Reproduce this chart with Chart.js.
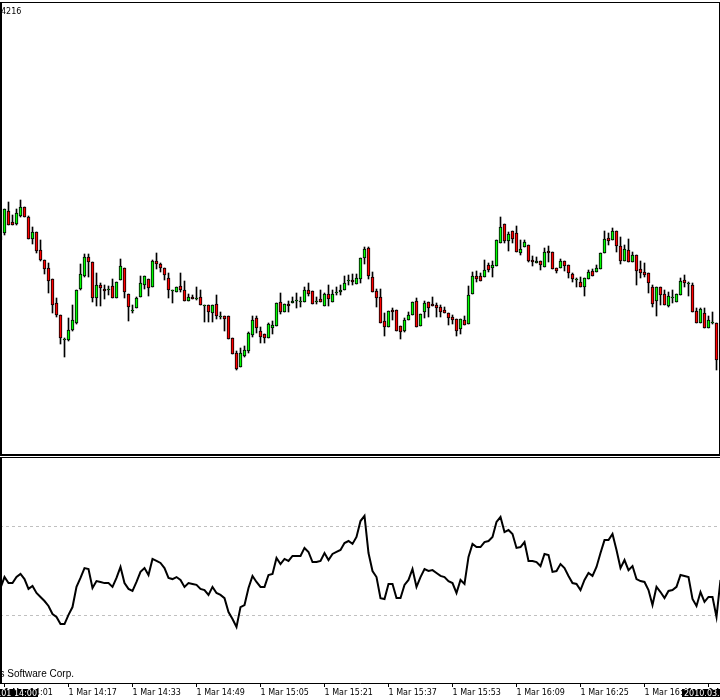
<!DOCTYPE html>
<html>
<head>
<meta charset="utf-8">
<script src="https://cdn.jsdelivr.net/npm/chart.js@4.4.0/dist/chart.umd.min.js"></script>
<style>
  html, body { margin: 0; padding: 0; background: #fff; width: 720px; height: 700px; overflow: hidden; }
  #wrap { position: relative; width: 720px; height: 700px; }
  canvas { position: absolute; left: 0; }
  #price { top: 0; }
  #osc { top: 459px; }
  .ln { position: absolute; background: #000; z-index: 2; }
  .txt { position: absolute; z-index: 2; color: #000; white-space: nowrap;
         font-family: "DejaVu Sans"; font-size: 8px; line-height: 10px; }
</style>
</head>
<body>
<div id="wrap">
  <canvas id="price" width="720" height="455"></canvas>
  <canvas id="osc" width="720" height="240"></canvas>

  <!-- panel frames -->
  <div class="ln" style="left:0;top:2px;width:720px;height:1px"></div>
  <div class="ln" style="left:0;top:2px;width:2px;height:453px"></div>
  <div class="ln" style="left:719px;top:2px;width:1px;height:453px"></div>
  <div class="ln" style="left:0;top:454px;width:720px;height:2px"></div>
  <div class="ln" style="left:0;top:457px;width:720px;height:1px"></div>
  <div class="ln" style="left:0;top:457px;width:2px;height:226px"></div>

  <div class="txt" style="left:1px;top:7px">4216</div>
  <div class="txt" style="right:646px;top:668px;font-family:'Liberation Sans';font-size:10px;line-height:12px">© 2001-2009 MetaQuotes Software Corp.</div>
</div>

<script>
// M1 bars, 1 Mar 2010 14:00 .. 16:59
const open = [
  1.3560, 1.3567, 1.3589, 1.3578, 1.3576, 1.3584, 1.3593, 1.3583, 1.3561, 1.3568,
  1.3550, 1.3540, 1.3532, 1.3521, 1.3497, 1.3485, 1.3460, 1.3460, 1.3470, 1.3477,
  1.3511, 1.3524, 1.3543, 1.3538, 1.3502, 1.3515, 1.3511, 1.3510, 1.3514, 1.3502,
  1.3520, 1.3532, 1.3506, 1.3489, 1.3492, 1.3503, 1.3515, 1.3521, 1.3513, 1.3539,
  1.3536, 1.3532, 1.3522, 1.3509, 1.3508, 1.3514, 1.3510, 1.3499, 1.3503, 1.3501,
  1.3503, 1.3494, 1.3495, 1.3487, 1.3496, 1.3483, 1.3484, 1.3484, 1.3462, 1.3447,
  1.3433, 1.3444, 1.3449, 1.3465, 1.3482, 1.3469, 1.3466, 1.3462, 1.3472, 1.3474,
  1.3498, 1.3488, 1.3496, 1.3497, 1.3499, 1.3498, 1.3498, 1.3510, 1.3509, 1.3498,
  1.3501, 1.3494, 1.3506, 1.3498, 1.3507, 1.3508, 1.3510, 1.3519, 1.3520, 1.3516,
  1.3521, 1.3542, 1.3552, 1.3523, 1.3509, 1.3503, 1.3479, 1.3473, 1.3490, 1.3490,
  1.3474, 1.3469, 1.3480, 1.3485, 1.3499, 1.3474, 1.3488, 1.3498, 1.3496, 1.3495,
  1.3493, 1.3490, 1.3487, 1.3483, 1.3481, 1.3471, 1.3480, 1.3476, 1.3506, 1.3524,
  1.3524, 1.3523, 1.3535, 1.3532, 1.3534, 1.3557, 1.3576, 1.3559, 1.3569, 1.3567,
  1.3547, 1.3553, 1.3555, 1.3540, 1.3537, 1.3539, 1.3533, 1.3549, 1.3548, 1.3532,
  1.3532, 1.3539, 1.3535, 1.3526, 1.3520, 1.3518, 1.3513, 1.3521, 1.3529, 1.3528,
  1.3531, 1.3547, 1.3562, 1.3560, 1.3569, 1.3554, 1.3539, 1.3550, 1.3538, 1.3545,
  1.3531, 1.3528, 1.3527, 1.3513, 1.3499, 1.3513, 1.3506, 1.3494, 1.3502, 1.3498,
  1.3505, 1.3520, 1.3516, 1.3515, 1.3489, 1.3477, 1.3487, 1.3472, 1.3477, 1.3477
];
const high = [
  1.3567, 1.3591, 1.3598, 1.3585, 1.3591, 1.3600, 1.3593, 1.3584, 1.3573, 1.3568,
  1.3560, 1.3540, 1.3537, 1.3521, 1.3502, 1.3485, 1.3462, 1.3482, 1.3495, 1.3510,
  1.3536, 1.3546, 1.3546, 1.3538, 1.3527, 1.3517, 1.3515, 1.3514, 1.3521, 1.3518,
  1.3541, 1.3532, 1.3506, 1.3495, 1.3503, 1.3524, 1.3524, 1.3521, 1.3540, 1.3547,
  1.3537, 1.3532, 1.3527, 1.3510, 1.3513, 1.3527, 1.3519, 1.3506, 1.3505, 1.3513,
  1.3510, 1.3495, 1.3495, 1.3495, 1.3505, 1.3488, 1.3484, 1.3484, 1.3462, 1.3449,
  1.3452, 1.3454, 1.3468, 1.3484, 1.3484, 1.3473, 1.3466, 1.3477, 1.3479, 1.3497,
  1.3507, 1.3496, 1.3499, 1.3503, 1.3507, 1.3503, 1.3513, 1.3517, 1.3509, 1.3503,
  1.3510, 1.3507, 1.3515, 1.3510, 1.3513, 1.3515, 1.3524, 1.3525, 1.3526, 1.3526,
  1.3542, 1.3553, 1.3553, 1.3528, 1.3511, 1.3511, 1.3487, 1.3489, 1.3492, 1.3490,
  1.3474, 1.3482, 1.3488, 1.3498, 1.3502, 1.3486, 1.3499, 1.3498, 1.3503, 1.3497,
  1.3495, 1.3493, 1.3487, 1.3485, 1.3481, 1.3481, 1.3484, 1.3514, 1.3528, 1.3529,
  1.3527, 1.3540, 1.3537, 1.3539, 1.3560, 1.3583, 1.3576, 1.3568, 1.3569, 1.3574,
  1.3560, 1.3560, 1.3555, 1.3544, 1.3543, 1.3539, 1.3552, 1.3554, 1.3548, 1.3532,
  1.3541, 1.3539, 1.3535, 1.3527, 1.3522, 1.3523, 1.3522, 1.3530, 1.3531, 1.3535,
  1.3547, 1.3569, 1.3567, 1.3572, 1.3569, 1.3563, 1.3555, 1.3561, 1.3548, 1.3545,
  1.3539, 1.3537, 1.3527, 1.3515, 1.3513, 1.3513, 1.3510, 1.3508, 1.3510, 1.3506,
  1.3522, 1.3525, 1.3518, 1.3517, 1.3492, 1.3492, 1.3492, 1.3484, 1.3488, 1.3477
];
const low = [
  1.3558, 1.3565, 1.3575, 1.3575, 1.3575, 1.3583, 1.3583, 1.3561, 1.3556, 1.3547,
  1.3539, 1.3526, 1.3507, 1.3487, 1.3483, 1.3456, 1.3443, 1.3459, 1.3469, 1.3476,
  1.3510, 1.3523, 1.3523, 1.3498, 1.3494, 1.3494, 1.3501, 1.3505, 1.3502, 1.3502,
  1.3520, 1.3502, 1.3479, 1.3487, 1.3492, 1.3503, 1.3511, 1.3504, 1.3513, 1.3531,
  1.3528, 1.3520, 1.3502, 1.3497, 1.3508, 1.3508, 1.3499, 1.3499, 1.3501, 1.3500,
  1.3495, 1.3478, 1.3478, 1.3478, 1.3481, 1.3481, 1.3469, 1.3461, 1.3446, 1.3430,
  1.3433, 1.3443, 1.3447, 1.3463, 1.3467, 1.3457, 1.3457, 1.3462, 1.3466, 1.3474,
  1.3486, 1.3488, 1.3488, 1.3497, 1.3492, 1.3493, 1.3498, 1.3504, 1.3496, 1.3496,
  1.3498, 1.3494, 1.3494, 1.3498, 1.3505, 1.3505, 1.3510, 1.3515, 1.3515, 1.3516,
  1.3517, 1.3536, 1.3521, 1.3508, 1.3493, 1.3477, 1.3464, 1.3473, 1.3480, 1.3469,
  1.3461, 1.3468, 1.3480, 1.3485, 1.3473, 1.3474, 1.3482, 1.3483, 1.3494, 1.3483,
  1.3483, 1.3487, 1.3475, 1.3476, 1.3464, 1.3466, 1.3475, 1.3476, 1.3506, 1.3518,
  1.3519, 1.3523, 1.3528, 1.3523, 1.3534, 1.3557, 1.3557, 1.3549, 1.3557, 1.3548,
  1.3545, 1.3553, 1.3538, 1.3534, 1.3537, 1.3530, 1.3533, 1.3538, 1.3531, 1.3527,
  1.3532, 1.3529, 1.3522, 1.3518, 1.3513, 1.3513, 1.3504, 1.3521, 1.3524, 1.3528,
  1.3531, 1.3547, 1.3555, 1.3560, 1.3548, 1.3536, 1.3539, 1.3538, 1.3538, 1.3515,
  1.3522, 1.3523, 1.3507, 1.3493, 1.3484, 1.3495, 1.3495, 1.3493, 1.3497, 1.3498,
  1.3505, 1.3513, 1.3504, 1.3488, 1.3477, 1.3477, 1.3472, 1.3472, 1.3476, 1.3430
];
const close = [
  1.3564, 1.3591, 1.3575, 1.3575, 1.3587, 1.3593, 1.3583, 1.3561, 1.3568, 1.3549,
  1.3540, 1.3531, 1.3519, 1.3495, 1.3485, 1.3462, 1.3460, 1.3470, 1.3480, 1.3510,
  1.3526, 1.3543, 1.3538, 1.3502, 1.3515, 1.3512, 1.3509, 1.3510, 1.3502, 1.3518,
  1.3534, 1.3508, 1.3493, 1.3489, 1.3502, 1.3517, 1.3524, 1.3512, 1.3539, 1.3536,
  1.3532, 1.3525, 1.3510, 1.3509, 1.3513, 1.3510, 1.3499, 1.3503, 1.3501, 1.3501,
  1.3495, 1.3494, 1.3488, 1.3495, 1.3484, 1.3483, 1.3481, 1.3461, 1.3446, 1.3431,
  1.3447, 1.3450, 1.3467, 1.3480, 1.3472, 1.3463, 1.3462, 1.3476, 1.3475, 1.3497,
  1.3488, 1.3496, 1.3494, 1.3499, 1.3500, 1.3499, 1.3510, 1.3506, 1.3496, 1.3498,
  1.3498, 1.3506, 1.3501, 1.3506, 1.3507, 1.3510, 1.3517, 1.3520, 1.3518, 1.3522,
  1.3542, 1.3551, 1.3524, 1.3508, 1.3502, 1.3477, 1.3473, 1.3489, 1.3488, 1.3469,
  1.3468, 1.3480, 1.3485, 1.3498, 1.3473, 1.3486, 1.3497, 1.3492, 1.3494, 1.3492,
  1.3488, 1.3487, 1.3482, 1.3480, 1.3469, 1.3481, 1.3475, 1.3505, 1.3524, 1.3521,
  1.3519, 1.3530, 1.3530, 1.3535, 1.3560, 1.3573, 1.3559, 1.3566, 1.3561, 1.3548,
  1.3551, 1.3558, 1.3539, 1.3538, 1.3539, 1.3535, 1.3548, 1.3547, 1.3531, 1.3529,
  1.3539, 1.3534, 1.3527, 1.3521, 1.3520, 1.3513, 1.3522, 1.3528, 1.3524, 1.3532,
  1.3547, 1.3561, 1.3559, 1.3569, 1.3554, 1.3539, 1.3551, 1.3538, 1.3545, 1.3529,
  1.3527, 1.3525, 1.3517, 1.3496, 1.3513, 1.3505, 1.3495, 1.3504, 1.3502, 1.3506,
  1.3519, 1.3517, 1.3516, 1.3488, 1.3477, 1.3491, 1.3472, 1.3480, 1.3477, 1.3440
];

// oscillator (0..100), one value per bar, last one just past the right edge
const rsi = [
  42.4, 47.3, 44.6, 44.6, 47.3, 48.7, 46.4, 42.0, 43.3, 40.2,
  38.4, 36.6, 34.4, 30.8, 29.5, 26.3, 26.3, 30.4, 33.9, 42.9,
  46.9, 51.3, 50.9, 42.4, 45.5, 45.1, 44.6, 44.6, 42.9, 46.9,
  51.8, 44.6, 42.0, 41.1, 45.1, 49.6, 51.3, 48.2, 55.4, 54.5,
  53.6, 51.3, 46.9, 46.4, 47.3, 46.0, 42.9, 44.6, 44.2, 43.8,
  42.0, 41.5, 39.3, 42.9, 40.2, 39.3, 37.9, 31.7, 28.6, 25.0,
  33.9, 34.8, 42.4, 47.8, 45.1, 42.9, 42.9, 48.2, 48.7, 55.8,
  53.1, 55.4, 54.5, 56.7, 56.7, 56.7, 60.3, 58.5, 54.0, 54.0,
  54.5, 58.0, 54.9, 57.6, 58.5, 59.4, 62.5, 63.4, 62.1, 65.2,
  72.3, 74.6, 58.0, 50.0, 47.3, 37.9, 37.5, 44.2, 44.2, 37.9,
  37.9, 43.8, 46.0, 50.9, 42.9, 47.3, 50.9, 50.0, 50.4, 49.1,
  47.8, 47.3, 45.5, 44.6, 40.2, 46.0, 44.2, 56.3, 62.1, 60.7,
  60.7, 62.9, 63.4, 65.2, 71.9, 74.1, 67.4, 68.3, 66.5, 60.3,
  60.7, 62.9, 54.5, 54.5, 54.0, 52.2, 57.6, 57.1, 49.6, 50.0,
  53.1, 51.3, 47.8, 44.6, 44.2, 41.5, 46.0, 49.1, 47.8, 51.8,
  58.0, 63.8, 63.8, 66.5, 59.4, 51.3, 54.9, 50.4, 52.2, 46.4,
  45.5, 45.1, 41.5, 34.8, 42.9, 40.6, 37.9, 41.1, 41.5, 42.9,
  48.2, 47.8, 47.3, 37.5, 34.4, 40.6, 36.2, 38.4, 38.4, 29.5,
  46.0
];
const levels = [70, 30];

const tickBars = [1, 17, 33, 49, 65, 81, 97, 113, 129, 145, 161, 177];
const tickLabels = ['1 Mar 14:01', '1 Mar 14:17', '1 Mar 14:33', '1 Mar 14:49', '1 Mar 15:05', '1 Mar 15:21',
                    '1 Mar 15:37', '1 Mar 15:53', '1 Mar 16:09', '1 Mar 16:25', '1 Mar 16:41', '1 Mar 16:57'];
const edgeDates = ['2010.03.01 14:00', '2010.03.01 16:59'];

const bullColor = '#00ff00';
const bearColor = '#ff0000';
const xMin = -0.125, xMax = 179.875;   // 4 px per bar on a 720 px wide area

const bodies = open.map((o, i) => ({ x: i, y: [o, close[i]] }));
const wicks = low.map((l, i) => ({ x: i, y: [l, high[i]] }));

new Chart(document.getElementById('price'), {
  type: 'bar',
  data: {
    datasets: [{
      data: bodies,
      grouped: false,
      barThickness: 3,
      borderWidth: 1,
      borderColor: '#000',
      borderSkipped: false,
      minBarLength: 1,
      backgroundColor: ctx => {
        const i = ctx.dataIndex;
        if (i === undefined) return bullColor;
        return close[i] >= open[i] ? bullColor : bearColor;
      }
    }, {
      data: wicks,
      grouped: false,
      barThickness: 1,
      borderWidth: 0,
      backgroundColor: '#000'
    }]
  },
  options: {
    responsive: false,
    animation: false,
    events: [],
    layout: { padding: 0, autoPadding: false },
    plugins: { legend: { display: false }, tooltip: { enabled: false } },
    scales: {
      x: { type: 'linear', display: false, offset: false, min: xMin, max: xMax },
      y: { display: false, min: 1.3345, max: 1.3800 }
    }
  }
});

// black date boxes at both ends of the time axis
const dateMarks = {
  id: 'dateMarks',
  afterDraw(chart) {
    const c = chart.ctx;
    const top = chart.scales.x.top + 6;
    c.save();
    c.font = '8px "DejaVu Sans"';
    c.textBaseline = 'middle';
    c.fillStyle = '#000';
    c.fillRect(0, top, 38, 8);
    c.fillRect(682, top, 40, 8);
    c.fillStyle = '#fff';
    c.textAlign = 'right';
    c.fillText(edgeDates[0], 37, top + 4.5);
    c.textAlign = 'left';
    c.fillText(edgeDates[1], 684, top + 4.5);
    c.restore();
  }
};

new Chart(document.getElementById('osc'), {
  type: 'line',
  data: {
    datasets: [{
      data: rsi.map((v, i) => ({ x: i, y: v })),
      borderColor: '#000',
      borderWidth: 2,
      pointRadius: 0,
      tension: 0,
      fill: false
    }]
  },
  options: {
    responsive: false,
    animation: false,
    events: [],
    layout: { padding: 0, autoPadding: false },
    plugins: { legend: { display: false }, tooltip: { enabled: false } },
    scales: {
      x: {
        type: 'linear', offset: false, min: xMin, max: xMax,
        afterBuildTicks: s => { s.ticks = tickBars.map(v => ({ value: v })); },
        // let the last label run off the edge instead of shrinking the plot
        afterFit: s => { s.paddingLeft = 0; s.paddingRight = 0; },
        ticks: {
          autoSkip: false, maxRotation: 0, minRotation: 0, align: 'start', padding: 1,
          color: '#000', font: { family: 'DejaVu Sans', size: 8, lineHeight: '10px' },
          callback: (v, i) => tickLabels[i]
        },
        grid: { drawOnChartArea: false, drawTicks: true, tickLength: 4, color: '#000' },
        border: { display: true, color: '#000', width: 1 }
      },
      y: {
        min: 0, max: 100,
        afterBuildTicks: s => { s.ticks = levels.map(v => ({ value: v })); },
        ticks: { display: false },
        grid: { drawTicks: false, color: '#c0c0c0', lineWidth: 1 },
        border: { display: false, dash: [3, 3] }
      }
    }
  },
  plugins: [dateMarks]
});
</script>
</body>
</html>
